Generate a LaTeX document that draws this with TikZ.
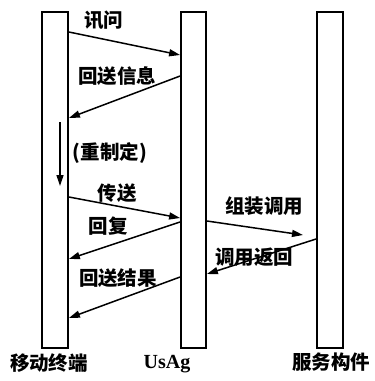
\documentclass[tikz,border=0pt]{standalone}
\usepackage{fontspec}
\setmainfont{Liberation Serif}
\newfontfamily\cjk{Noto Sans CJK SC}
\usetikzlibrary{arrows.meta}
\tikzset{
  lifebar/.style={draw=black, line width=1.8pt, fill=white, minimum width=26pt, minimum height=336pt, inner sep=0pt},
  msg/.style={line width=1.5pt, -{Triangle[length=11pt,width=7pt]}},
  lbl/.style={inner sep=0pt, font=\cjk\bfseries\fontsize{19.5}{22}\selectfont},
  actorlbl/.style={inner sep=0pt, font=\cjk\bfseries\fontsize{19.5}{22}\selectfont}
}
\begin{document}
\begin{tikzpicture}[x=1pt,y=-1pt]
\useasboundingbox (0,0) rectangle (375,381);
% lifelines
\node[lifebar] (L) at (55,180) {};
\node[lifebar, minimum width=25pt] (M) at (193.5,180) {};
\node[lifebar] (R) at (330,180) {};
% endpoints
\coordinate (a1) at (L.east |- 0,32);
\coordinate (b1) at (M.west |- 0,55);
\coordinate (b2) at (M.west |- 0,76);
\coordinate (a2) at (L.east |- 0,118);
\coordinate (d1) at (60,122);
\coordinate (d2) at (60,186);
\coordinate (a3) at (L.east |- 0,197);
\coordinate (b3) at (M.west |- 0,218);
\coordinate (b4) at (M.west |- 0,222);
\coordinate (a4) at (L.east |- 0,259);
\coordinate (b5) at (M.west |- 0,277);
\coordinate (a5) at (L.east |- 0,318);
\coordinate (c1) at (M.east |- 0,221);
\coordinate (e1) at (303,235);
\coordinate (r1) at (R.west |- 0,239);
\coordinate (c2) at (M.east |- 0,274);
% messages
\draw[msg] (a1) -- (b1);
\draw[msg] (b2) -- (a2);
\draw[msg, line width=1.3pt] (d1) -- (d2);
\draw[msg] (a3) -- (b3);
\draw[msg] (b4) -- (a4);
\draw[msg] (b5) -- (a5);
\draw[msg] (c1) -- (e1);
\draw[msg] (r1) -- (c2);
% labels
\node[lbl] (t1) at (104,20) {讯问};
\node[lbl] (t2) at (117,76) {回送信息};
\node[lbl] (t3) at (110,153) {(重制定)};
\node[lbl] (t4) at (117,193) {传送};
\node[lbl] (t5) at (108,226) {回复};
\node[lbl] (t6) at (118,278) {回送结果};
\node[lbl] (t7) at (264,206) {组装调用};
\node[lbl] (t8) at (254,257) {调用返回};
% actor names
\node[actorlbl] (n1) at (49,363) {移动终端};
\node[inner sep=0pt, font=\bfseries\fontsize{20}{22}\selectfont] (n2) at (167,364) {UsAg};
\node[actorlbl] (n3) at (331,362) {服务构件};
\end{tikzpicture}
\end{document}
